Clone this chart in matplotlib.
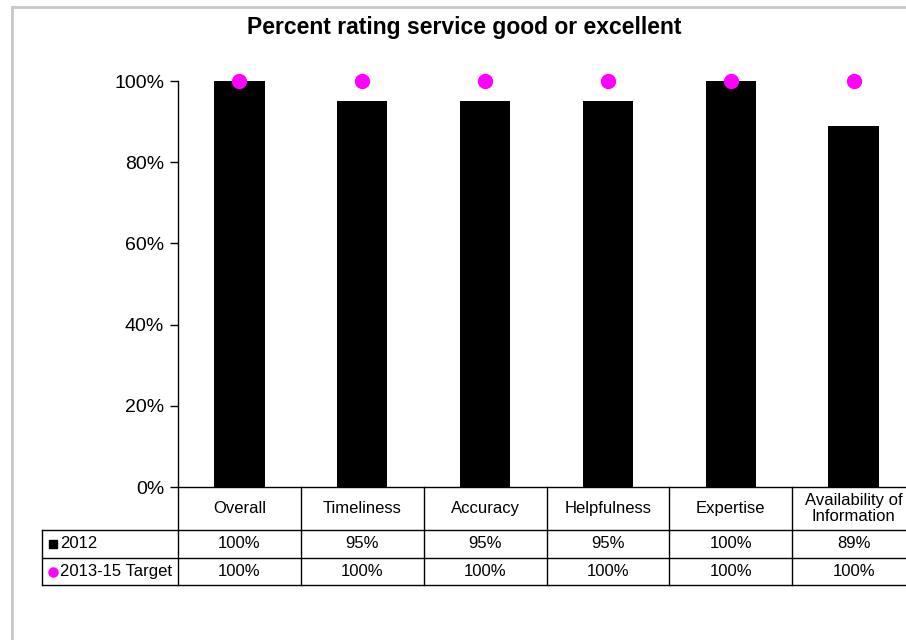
import numpy as np
import matplotlib.pyplot as plt
from matplotlib.lines import Line2D

categories = ["Overall", "Timeliness", "Accuracy", "Helpfulness", "Expertise",
              "Availability of\nInformation"]
vals_2012 = [1.00, 0.95, 0.95, 0.95, 1.00, 0.89]
vals_target = [1.00, 1.00, 1.00, 1.00, 1.00, 1.00]
series_names = ["2012", "2013-15 Target"]
yticks = [0, 0.2, 0.4, 0.6, 0.8, 1.0]

plt.rcParams['font.family'] = ['Liberation Sans', 'DejaVu Sans']

fig = plt.figure(figsize=(9.06, 6.4), dpi=100)
W, H = 906, 640
# axes placed in pixel terms, runs a bit past the right edge like the source
ax = fig.add_axes([178 / W, 1 - 487 / H, 737 / W, 406 / H])

n = len(categories)
x = np.arange(n)
ax.bar(x, vals_2012, width=0.41, color="black", zorder=2)
ax.plot(x, vals_target, "o", color="#ff00ff", markersize=10, zorder=3, clip_on=False)

ax.set_xlim(-0.5, n - 0.5)
ax.set_ylim(0, 1)
ax.set_yticks(yticks)
ax.set_yticklabels(["%d%%" % round(v * 100) for v in yticks], fontsize=14)
ax.tick_params(axis="y", direction="out", length=6, width=1, pad=4)
ax.set_xticks([])
for s in ["top", "right", "bottom"]:
    ax.spines[s].set_visible(False)
ax.spines["left"].set_linewidth(1)

# data table drawn under the axes (x in data units, y in axes units)
tr = ax.get_xaxis_transform()
colw_px = 737 / n
lab_left = -0.5 - 136 / colw_px
y0, y1, y2, y3 = 0, -43 / 406, -71 / 406, -98 / 406
kw = dict(color="black", linewidth=1, transform=tr, clip_on=False)
ax.plot([-0.5, n - 0.5], [y0, y0], **kw)
for yy in (y1, y2, y3):
    ax.plot([lab_left, n - 0.5], [yy, yy], **kw)
ax.plot([lab_left, lab_left], [y1, y3], **kw)
for k in range(n + 1):
    ax.plot([k - 0.5, k - 0.5], [y0, y3], **kw)

fs = 12
for i, cat in enumerate(categories):
    ax.text(i, (y0 + y1) / 2, cat, ha="center", va="center", fontsize=fs,
            linespacing=1.15, transform=tr)
    ax.text(i, (y1 + y2) / 2, "%d%%" % round(vals_2012[i] * 100), ha="center",
            va="center", fontsize=fs, transform=tr)
    ax.text(i, (y2 + y3) / 2, "%d%%" % round(vals_target[i] * 100), ha="center",
            va="center", fontsize=fs, transform=tr)

# row labels with legend keys
key_x = lab_left + 11 / colw_px
ax.plot([key_x], [(y1 + y2) / 2], "s", color="black", markersize=5.8,
        transform=tr, clip_on=False)
ax.plot([key_x], [(y2 + y3) / 2], "o", color="#ff00ff", markersize=6.5,
        transform=tr, clip_on=False)
ax.text(lab_left + 18 / colw_px, (y1 + y2) / 2, series_names[0], ha="left",
        va="center", fontsize=fs, transform=tr)
ax.text(lab_left + 18 / colw_px, (y2 + y3) / 2, series_names[1], ha="left",
        va="center", fontsize=fs, transform=tr)

fig.text(464 / W, 1 - 34 / H, "Percent rating service good or excellent",
         ha="center", va="baseline", fontsize=16.5, fontweight="bold")

# grey chart-area border (top and left visible)
fig.add_artist(Line2D([12 / W, 12 / W], [0, 1 - 7 / H], color="#c8c8c8", linewidth=2))
fig.add_artist(Line2D([12 / W, 1], [1 - 7 / H, 1 - 7 / H], color="#c8c8c8", linewidth=2))

fig.savefig("out.png", dpi=100)
